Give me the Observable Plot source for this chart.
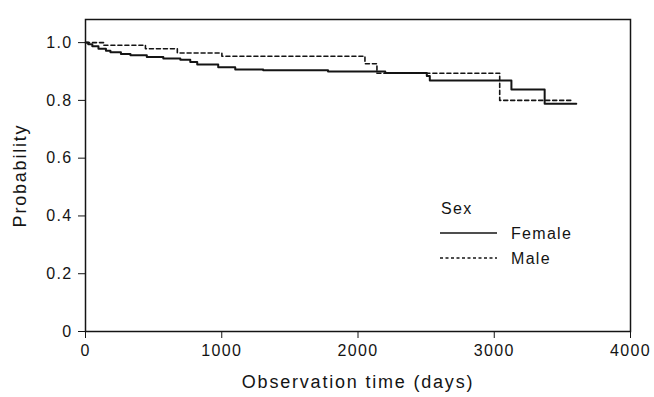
<!DOCTYPE html>
<html>
<head>
<meta charset="utf-8">
<script src="https://cdn.jsdelivr.net/npm/d3@7"></script>
<script src="https://cdn.jsdelivr.net/npm/@observablehq/plot@0.6"></script>
<style>
  html, body { margin: 0; padding: 0; background: #fff; }
  #chart svg { font-family: "Liberation Sans", Arial, sans-serif; }
  #chart svg text { letter-spacing: 1.3px; }
  #chart [aria-label="x-axis label"] text, #chart [aria-label="y-axis label"] text { font-size: 18px; letter-spacing: 1.8px; }
</style>
</head>
<body>
<div id="chart"></div>
<script>
const femaleTime = [0, 20, 50, 95, 150, 183, 260, 330, 450, 571, 696, 769, 820, 974, 1099, 1304, 1780, 2200, 2505, 2527, 3126, 3370, 3602];
const femaleSurv = [1.0, 0.994, 0.987, 0.979, 0.972, 0.967, 0.961, 0.956, 0.950, 0.945, 0.941, 0.933, 0.924, 0.915, 0.907, 0.904, 0.900, 0.895, 0.884, 0.869, 0.838, 0.788, 0.788];
const maleTime = [0, 132, 440, 674, 1001, 2051, 2139, 3040, 3565];
const maleSurv = [1.0, 0.991, 0.979, 0.964, 0.953, 0.927, 0.894, 0.800, 0.800];
const xTicks = [0, 1000, 2000, 3000, 4000];
const yTicks = [0, 0.2, 0.4, 0.6, 0.8, 1.0];
const groups = ["Female", "Male"];
const legendTitle = "Sex";

const female = femaleTime.map((t, i) => ({t, s: femaleSurv[i]}));
const male = maleTime.map((t, i) => ({t, s: maleSurv[i]}));
const ink = "#141414";

const plot = Plot.plot({
  width: 654,
  height: 397,
  marginLeft: 85,
  marginRight: 24,
  marginTop: 19,
  marginBottom: 66,
  style: {fontSize: "16px", color: ink, background: "#fff"},
  x: {domain: [0, 4000]},
  y: {domain: [0, 1.08]},
  marks: [
    Plot.axisX({ticks: xTicks, tickSize: 7, tickPadding: 6, fontSize: 16, tickFormat: d => String(d), label: "Observation time (days)", labelAnchor: "center", labelArrow: "none", labelOffset: 56, stroke: ink}),
    Plot.axisY({ticks: yTicks, tickSize: 7, tickPadding: 6, fontSize: 16, tickFormat: d => d === 0 ? "0" : d.toFixed(1), label: "Probability", labelAnchor: "center", labelArrow: "none", labelOffset: 72, stroke: ink}),
    Plot.line(female, {x: "t", y: "s", curve: "step-after", stroke: ink, strokeWidth: 2}),
    Plot.line(male, {x: "t", y: "s", curve: "step-after", stroke: ink, strokeWidth: 1.6, strokeDasharray: "4,3"}),
    Plot.frame({stroke: ink, strokeWidth: 1.5})
  ]
});
document.getElementById("chart").appendChild(plot);

// legend
const svg = d3.select(plot);
const lg = svg.append("g").attr("font-size", 16).attr("fill", ink).attr("text-anchor", "start");
lg.append("text").attr("x", 441).attr("y", 208).attr("dy", "0.35em").text(legendTitle);
const rows = [{name: groups[0], y: 233, dash: null, w: 1.4}, {name: groups[1], y: 258, dash: "3,2.5", w: 1.4}];
rows.forEach(r => {
  lg.append("line").attr("x1", 440).attr("x2", 497).attr("y1", r.y).attr("y2", r.y)
    .attr("stroke", ink).attr("stroke-width", r.w).attr("stroke-dasharray", r.dash);
  lg.append("text").attr("x", 511).attr("y", r.y).attr("dy", "0.35em").text(r.name);
});
</script>
</body>
</html>
